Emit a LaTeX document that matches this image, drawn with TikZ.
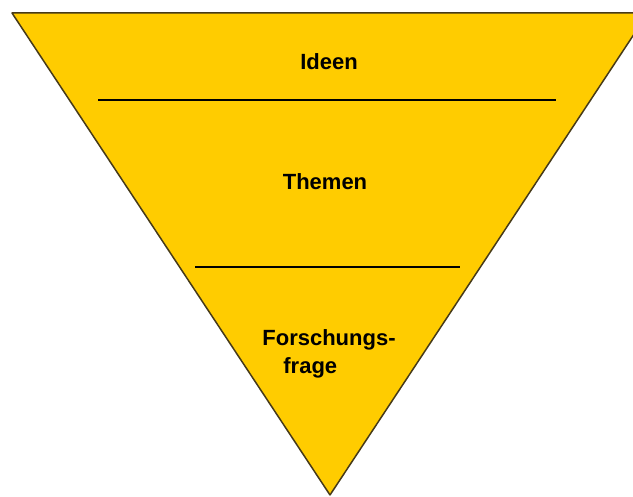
\documentclass[tikz,border=0pt]{standalone}
\usepackage{fontspec}
\setmainfont{Liberation Sans}
\definecolor{funnel_fill}{RGB}{255, 204, 0}
\definecolor{funnel_edge}{RGB}{70, 58, 25}
\tikzstyle{label}=[font=\fontsize{22}{28}\selectfont\bfseries,text=black,inner sep=0pt]
\tikzstyle{sep}=[draw=black,line width=2pt]
\tikzstyle{none}=[]
\begin{document}
\begin{tikzpicture}[x=1pt, y=-1pt]
            \useasboundingbox (0, 0) rectangle (633, 497);
            \coordinate (0) at (12, 13);
            \coordinate (1) at (648, 13);
            \coordinate (2) at (330, 495);
            \coordinate (3) at (98, 100);
            \coordinate (4) at (556, 100);
            \coordinate (5) at (195, 267);
            \coordinate (6) at (460, 267);
            \filldraw [fill=funnel_fill, draw=funnel_edge, line width=1.5pt, line join=round] (0) -- (1) -- (2) -- cycle;
            \node [style=label] (7) at (329, 62) {Ideen};
            \node [style=label] (8) at (325, 182) {Themen};
            \node [style=label, align=left] (9) at (329, 354) {Forschungs-\\\hspace{21pt}frage};
            \draw [style=sep] (3) to (4);
            \draw [style=sep] (5) to (6);
    \end{tikzpicture}
\end{document}
